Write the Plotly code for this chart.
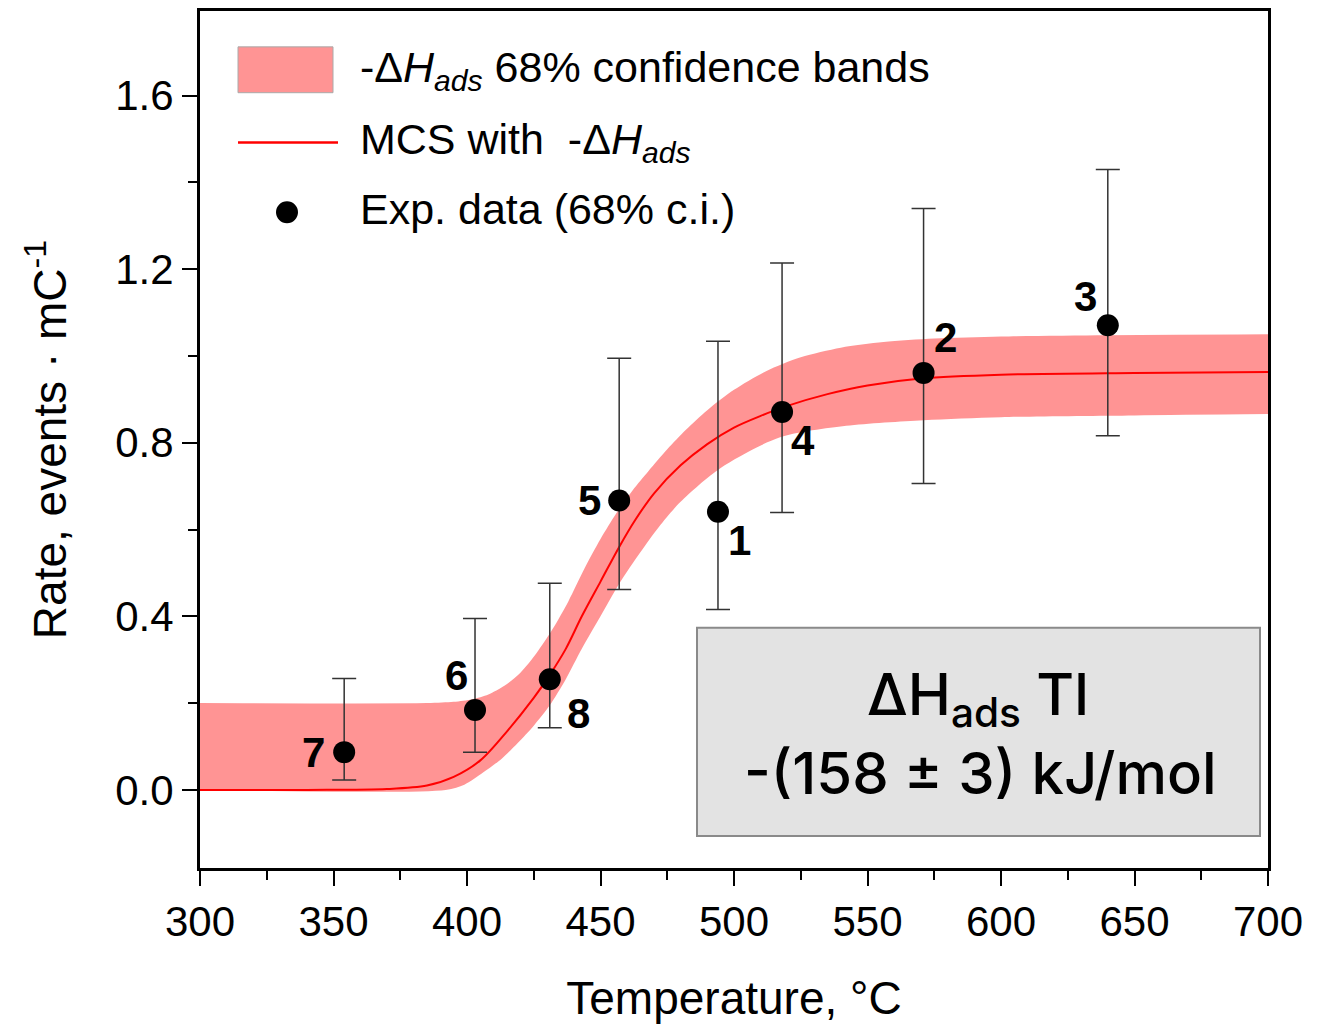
import plotly.graph_objects as go

# ---------------- data ----------------
exp_T = [354, 403, 431, 457, 494, 518, 571, 640]
exp_rate = [0.087, 0.184, 0.255, 0.667, 0.641, 0.871, 0.961, 1.071]
exp_err_plus = [0.170, 0.211, 0.221, 0.328, 0.393, 0.343, 0.379, 0.359]
exp_err_minus = [0.064, 0.097, 0.112, 0.205, 0.225, 0.232, 0.255, 0.255]
exp_labels = ["7", "6", "8", "5", "1", "4", "2", "3"]

curve_T = [300, 340, 370, 385, 395, 405, 415, 425, 431, 437, 443, 450, 457, 463,
           470, 480, 490, 500, 510, 520, 535, 550, 570, 600, 650, 700]
curve_rate = [0.0, 0.0, 0.002, 0.01, 0.03, 0.068, 0.135, 0.212, 0.265, 0.325, 0.40,
              0.48, 0.56, 0.622, 0.683, 0.748, 0.797, 0.835, 0.862, 0.885, 0.912,
              0.932, 0.948, 0.957, 0.961, 0.963]

band_upper_T = [300, 385, 395, 402, 408, 414, 420, 426, 432, 438, 444, 450, 456, 462,
                468, 475, 482, 490, 500, 512, 525, 540, 556, 575, 600, 640, 700]
band_upper = [0.2, 0.2, 0.203, 0.209, 0.22, 0.24, 0.27, 0.315, 0.37, 0.435, 0.51,
              0.578, 0.638, 0.69, 0.735, 0.785, 0.83, 0.875, 0.922, 0.965, 0.997,
              1.019, 1.032, 1.04, 1.045, 1.048, 1.05]

band_lower_T = [300, 392, 399, 406, 413, 419, 425, 431, 437, 443, 450, 457, 465, 472,
                480, 495, 517, 542, 571, 600, 650, 700]
band_lower = [0.0, 0.0, 0.012, 0.04, 0.072, 0.108, 0.148, 0.195, 0.255, 0.325, 0.40,
              0.475, 0.548, 0.607, 0.664, 0.742, 0.812, 0.839, 0.852, 0.859, 0.863, 0.866]

x_ticks = [300, 350, 400, 450, 500, 550, 600, 650, 700]
y_ticks = [0.0, 0.4, 0.8, 1.2, 1.6]
y_tick_text = ["0.0", "0.4", "0.8", "1.2", "1.6"]

label_offsets = [(-31, 0), (-19, 35), (29, -34), (-30, 0), (22, -29), (21, -29), (22, 35), (-22, 29)]

BAND = "#ff9494"
FONT = "Liberation Sans, Arial, sans-serif"

fig = go.Figure()

# confidence band (lower edge, then upper edge filled down to it)
fig.add_trace(go.Scatter(
    x=band_lower_T, y=band_lower, mode="lines",
    line=dict(width=0, color=BAND, shape="spline", smoothing=0.8),
    hoverinfo="skip", showlegend=False))
fig.add_trace(go.Scatter(
    x=band_upper_T, y=band_upper, mode="lines", fill="tonexty", fillcolor=BAND,
    line=dict(width=0, color=BAND, shape="spline", smoothing=0.8),
    hoverinfo="skip", showlegend=False))

# MCS curve
fig.add_trace(go.Scatter(
    x=curve_T, y=curve_rate, mode="lines",
    line=dict(color="#ff0000", width=2, shape="spline", smoothing=0.9),
    showlegend=False))

# experimental data
fig.add_trace(go.Scatter(
    x=exp_T, y=exp_rate, mode="markers",
    marker=dict(color="black", size=22),
    error_y=dict(type="data", symmetric=False, array=exp_err_plus,
                 arrayminus=exp_err_minus, color="#333333", thickness=1.5, width=12),
    showlegend=False))

# point labels
for t, r, lab, (dx, dy) in zip(exp_T, exp_rate, exp_labels, label_offsets):
    fig.add_annotation(x=t, y=r, text=f"<b>{lab}</b>", showarrow=False,
                       xshift=dx, yshift=dy, xanchor="center", yanchor="middle",
                       font=dict(family=FONT, size=42, color="black"))

# ---------------- legend (manual) ----------------
def px(xp):
    return (xp - 200) / 1068

def py(yp):
    return (868 - yp) / 860

fig.add_shape(type="rect", xref="paper", yref="paper",
              x0=px(238), x1=px(333), y0=py(90), y1=py(44),
              fillcolor=BAND, line=dict(color="#aaaaaa", width=1))
fig.add_shape(type="line", xref="paper", yref="paper",
              x0=px(238), x1=px(338), y0=py(140), y1=py(140),
              line=dict(color="#ff0000", width=2.5))
fig.add_shape(type="circle", xref="paper", yref="paper",
              x0=px(276), x1=px(298), y0=py(221), y1=py(199),
              fillcolor="black", line=dict(color="black", width=0))

leg_texts = ["-Δ<i>H</i><sub><i>ads</i></sub> 68% confidence bands",
             "MCS with  -Δ<i>H</i><sub><i>ads</i></sub>",
             "Exp. data (68% c.i.)"]
leg_y = [67, 139, 207]
for t, yy in zip(leg_texts, leg_y):
    fig.add_annotation(xref="paper", yref="paper", x=px(358), y=py(yy),
                       xanchor="left", yanchor="middle", text=t, showarrow=False,
                       font=dict(family=FONT, size=43, color="black"))

# ---------------- info box ----------------
fig.add_shape(type="rect", xref="paper", yref="paper",
              x0=px(697), x1=px(1260), y0=py(836), y1=py(627),
              fillcolor="#e3e3e3", line=dict(color="#8a8a8a", width=2))
fig.add_annotation(xref="paper", yref="paper", x=px(978), y=py(697),
                   xanchor="center", yanchor="middle",
                   text="ΔH<sub>ads</sub> Tl", showarrow=False,
                   font=dict(family="Inter, Noto Sans, sans-serif", size=58,
                             color="black", weight=500))
fig.add_annotation(xref="paper", yref="paper", x=px(980), y=py(773),
                   xanchor="center", yanchor="middle",
                   text="-(158 ± 3) kJ/mol", showarrow=False,
                   font=dict(family="Inter, Noto Sans, sans-serif", size=58,
                             color="black", weight=500))

fig.update_layout(
    width=1330, height=1030,
    margin=dict(l=192, r=70, t=0, b=170),
    paper_bgcolor="white", plot_bgcolor="white",
    font=dict(family=FONT, color="black"),
)

fig.update_xaxes(
    range=[300, 700], tickvals=x_ticks, ticks="outside", ticklen=15, tickwidth=2,
    tickcolor="black", showline=True, linecolor="black", linewidth=3, mirror=True,
    showgrid=False, zeroline=False, tickfont=dict(size=42, family=FONT),
    minor=dict(dtick=25, ticks="outside", ticklen=9, tickwidth=2, tickcolor="black"),
    title=dict(text="Temperature, °C", font=dict(size=46, family=FONT), standoff=38))

fig.update_yaxes(
    range=[-0.18, 1.795], tickvals=y_ticks, ticktext=y_tick_text, ticks="outside",
    ticklen=15, tickwidth=2, tickcolor="black", showline=True, linecolor="black",
    linewidth=3, mirror=True, showgrid=False, zeroline=False,
    tickfont=dict(size=42, family=FONT),
    minor=dict(dtick=0.2, tick0=0, ticks="outside", ticklen=9, tickwidth=2, tickcolor="black"),
    title=dict(text="Rate, events · mC<sup>-1</sup>", font=dict(size=46, family=FONT), standoff=35))

fig.write_html("out.html")
